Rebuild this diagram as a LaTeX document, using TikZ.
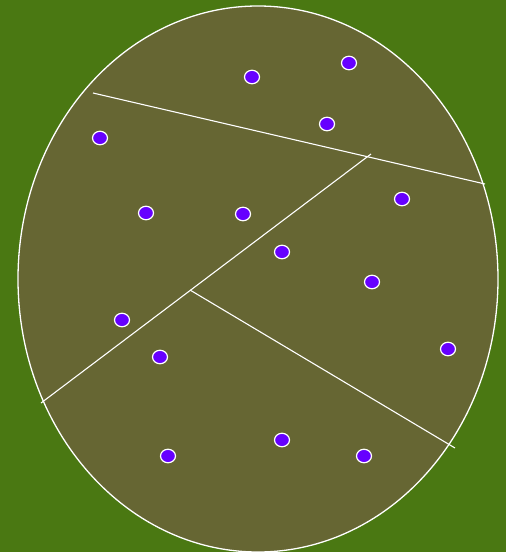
\documentclass[tikz,border=0pt]{standalone}
\usepackage{tikz}
\usetikzlibrary{positioning, shapes.geometric}
\definecolor{fieldgreen}{RGB}{74,120,18}
\definecolor{olive}{RGB}{102,102,51}
\definecolor{sitepurple}{RGB}{102,0,255}

\begin{document}
\begin{tikzpicture}[
    x=1pt, y=-1pt,
    site/.style={ellipse, draw=white, fill=sitepurple, line width=1.2pt, inner sep=0pt, minimum width=15pt, minimum height=13.5pt},
    cut/.style={white, line width=1.1pt}
]
\fill[fieldgreen] (0,0) rectangle (506,552);
\useasboundingbox (0,0) rectangle (506,552);
\filldraw[fill=olive, draw=white, line width=1.3pt] (258,279) ellipse [x radius=240, y radius=273];

\coordinate (a1) at (93,93);
\coordinate (a2) at (485,184);
\coordinate (b1) at (41,403);
\coordinate (b2) at (371,154);
\coordinate (c1) at (190,290);
\coordinate (c2) at (455,448);

\draw[cut] (a1) -- (a2);
\draw[cut] (b1) -- (b2);
\draw[cut] (c1) -- (c2);

\node[site] (s1) at (252,77) {};
\node[site] (s2) at (349,63) {};
\node[site] (s3) at (327,124) {};
\node[site] (s4) at (100,138) {};
\node[site] (s5) at (146,213) {};
\node[site] (s6) at (243,214) {};
\node[site] (s7) at (402,199) {};
\node[site] (s8) at (282,252) {};
\node[site] (s9) at (372,282) {};
\node[site] (s10) at (122,320) {};
\node[site] (s11) at (160,357) {};
\node[site] (s12) at (448,349) {};
\node[site] (s13) at (168,456) {};
\node[site] (s14) at (282,440) {};
\node[site] (s15) at (364,456) {};
\end{tikzpicture}
\end{document}
